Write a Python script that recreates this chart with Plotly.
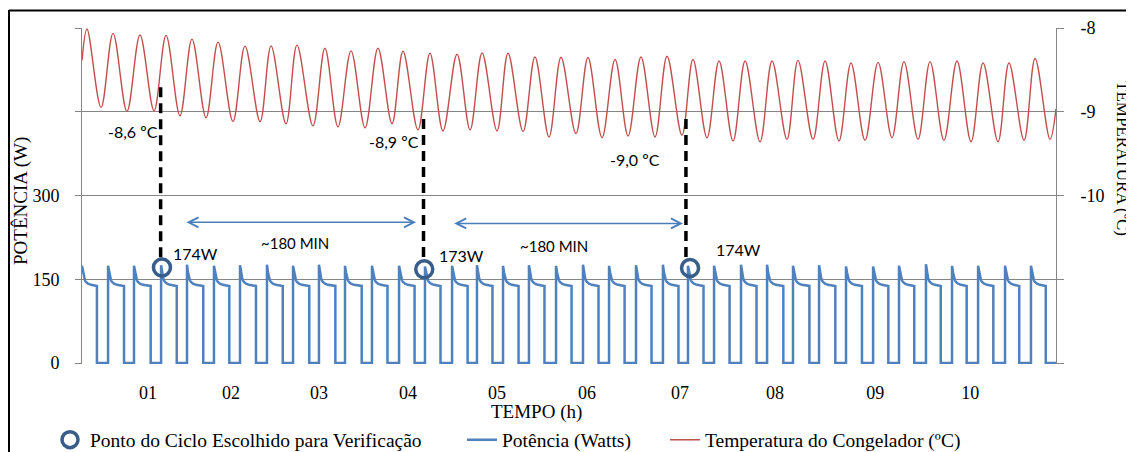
import plotly.graph_objects as go

# ---------------- data ----------------
# x-axis tick labels (hours) and their position on the time axis (minutes)
hour_labels = ["01", "02", "03", "04", "05", "06", "07", "08", "09", "10"]
hour_label_min = [45.1, 101.7, 161.8, 222.6, 283.4, 344.9, 408.4, 473.3, 541.6, 606.5]
time_end_min = 665.1

# compressor cycles: switch-on time, switch-off time (min) and peak power (W)
cycle_start_min = [0.0, 17.8, 35.5, 54.0, 71.7, 90.1, 107.9, 126.3, 144.1, 161.8,
                   179.6, 198.0, 216.5, 234.2, 252.7, 269.7, 287.5, 305.2, 323.7, 342.1,
                   359.9, 378.3, 396.7, 413.8, 431.6, 450.0, 467.8, 485.5, 503.3, 521.7,
                   540.2, 557.9, 576.3, 594.1, 611.9, 630.3, 648.0]
cycle_end_min = [10.2, 28.7, 46.9, 64.7, 82.8, 100.6, 118.8, 137.1, 155.2, 173.0,
                 191.0, 208.6, 227.1, 244.8, 263.3, 280.3, 298.1, 315.8, 334.3, 352.7,
                 370.5, 388.9, 407.3, 424.4, 442.2, 460.6, 478.9, 496.7, 514.4, 532.6,
                 550.6, 568.3, 586.4, 604.1, 622.3, 640.0, 658.1]
cycle_peak_w = [174, 174, 174, 175, 176, 174, 175, 176, 174, 176,
                174, 174, 174, 173, 174, 175, 174, 175, 174, 176,
                174, 175, 176, 174, 174, 176, 176, 174, 175, 173,
                173, 174, 177, 174, 174, 174, 174]
# power decay after switch-on (minutes after start, W), read from one cycle
decay_offset_min = [0.7, 1.4, 2.0, 2.7, 4.1, 6.1]
decay_w = [162, 153, 148, 145, 142, 140]
plateau_end_w = 138

# freezer temperature: start / end values and cycle extremes
temp_start = (0.0, -8.386)
temp_end = (665.1, -8.964)
temp_peak_min = [3.4, 21.2, 39.6, 57.4, 75.1, 92.9, 111.3, 129.1, 146.8, 165.9,
                 183.7, 202.1, 219.2, 237.6, 256.1, 273.2, 290.9, 309.3, 327.1, 345.5,
                 364.0, 381.7, 399.5, 417.2, 435.0, 452.8, 471.2, 488.9, 507.4, 525.1,
                 543.6, 561.3, 579.1, 597.5, 615.3, 633.0, 650.8]
temp_peak_c = [-8.012, -8.064, -8.084, -8.088, -8.133, -8.169, -8.217, -8.213, -8.205, -8.241,
               -8.273, -8.241, -8.277, -8.301, -8.313, -8.298, -8.301, -8.346, -8.349, -8.353,
               -8.377, -8.346, -8.337, -8.377, -8.394, -8.394, -8.394, -8.386, -8.394, -8.418,
               -8.410, -8.401, -8.401, -8.394, -8.418, -8.418, -8.365]
temp_trough_min = [13.0, 30.7, 49.2, 66.9, 84.7, 103.1, 121.6, 139.3, 157.7, 174.8,
                   193.3, 211.7, 229.4, 246.5, 265.0, 283.4, 301.2, 318.9, 337.3, 355.1,
                   372.9, 391.3, 409.7, 426.8, 444.6, 463.0, 481.4, 499.2, 516.9, 534.7,
                   553.1, 570.9, 588.6, 607.1, 625.5, 643.3, 661.0]
temp_trough_c = [-8.948, -8.996, -8.988, -9.048, -9.072, -9.117, -9.117, -9.145, -9.169, -9.181,
                 -9.193, -9.141, -9.217, -9.229, -9.217, -9.229, -9.237, -9.301, -9.261, -9.310,
                 -9.289, -9.301, -9.281, -9.310, -9.349, -9.358, -9.329, -9.329, -9.349, -9.341,
                 -9.310, -9.329, -9.341, -9.358, -9.358, -9.341, -9.329]

# chosen verification points
check_min = [54.6, 233.7, 415.2]
check_w = [171, 168, 170]
check_labels = ["174W", "173W", "174W"]
temp_labels = ["-8,6 ºC", "-8,9 ºC", "-9,0 ºC"]

# ---------------- build series ----------------
pw_x, pw_y = [], []
for i, (t0, t1, pk) in enumerate(zip(cycle_start_min, cycle_end_min, cycle_peak_w)):
    if i > 0:
        pw_x.append(t0); pw_y.append(0)
    pw_x.append(t0); pw_y.append(pk)
    for off, w in zip(decay_offset_min, decay_w):
        pw_x.append(t0 + off); pw_y.append(w)
    pw_x.append(t1); pw_y.append(plateau_end_w)
    pw_x.append(t1); pw_y.append(0)
pw_x.append(time_end_min); pw_y.append(0)

pts = [temp_start] + list(zip(temp_peak_min, temp_peak_c)) + \
      list(zip(temp_trough_min, temp_trough_c)) + [temp_end]
pts.sort()
tp_x = [p[0] for p in pts]
tp_y = [p[1] for p in pts]

# ---------------- layout geometry ----------------
OFF = 8                      # default page (body) margin of the html page
W, H = 1134 - OFF, 452 - OFF
L, R, T, B = 82 - OFF, 1056 - OFF, 28 - OFF, 364 - OFF
pad_w = 1.8
p_range = [-pad_w, 600]
t_range = [-12 - pad_w * 4 / 600, -8]


def paper_x(px):             # screen pixel -> paper coordinate
    return (px - OFF - L) / (R - L)


def paper_y(py):
    return (B - (py - OFF)) / (B - T)


SERIF = "Liberation Serif"
SANS = "Lato"
GRID = "#868686"
BLUE = "#4F81BD"
RED = "#C0504D"
NAVY = "#385D8A"

fig = go.Figure()
fig.add_trace(go.Scatter(
    x=pw_x, y=pw_y, mode="lines", name="Potência (Watts)",
    line=dict(color=BLUE, width=2.5), legend="legend2", showlegend=True))
fig.add_trace(go.Scatter(
    x=tp_x, y=tp_y, mode="lines", name="Temperatura do Congelador (ºC)",
    line=dict(color=RED, width=1.4, shape="spline", smoothing=1.0),
    yaxis="y2", legend="legend3", showlegend=True))
fig.add_trace(go.Scatter(
    x=check_min, y=check_w, mode="markers",
    name="Ponto do Ciclo Escolhido para Verificação",
    marker=dict(symbol="circle-open", size=17, color=NAVY, line=dict(width=3.5, color=NAVY)),
    legend="legend", showlegend=True, cliponaxis=False))

# dashed markers from temperature reading to the chosen points
dash_x = [53.7, 233.2, 412.4]
dash_top = [494, 437, 437]
dash_bot = [181, 190, 190]
for x, y0, y1 in zip(dash_x, dash_top, dash_bot):
    fig.add_shape(type="line", xref="x", yref="y", x0=x, x1=x, y0=y0, y1=y1,
                  line=dict(color="black", width=3.5, dash="10px,6px"), layer="above")

C = dict(xanchor="center", yanchor="middle", showarrow=False)
ann = []
# temperature labels
for txt, x, y in zip(temp_labels, [34.8, 213.1, 377.3], [414, 396, 364]):
    ann.append(dict(text=txt, x=x, y=y, xref="x", yref="y",
                    font=dict(family=SANS, size=16, color="black"), **C))
# power labels
for txt, x, y in zip(check_labels, [77.2, 258.8, 448.0], [197, 193, 204]):
    ann.append(dict(text=txt, x=x, y=y, xref="x", yref="y",
                    font=dict(family=SANS, size=16, color="black"), **C))
# interval labels and arrows
for x, y in zip([145.5, 322.3], [215, 210]):
    ann.append(dict(text="~180 MIN", x=x, y=y, xref="x", yref="y",
                    font=dict(family=SANS, size=15, color="black"), **C))
for xa, xb, y in [(70.3, 228.1, 252), (253.1, 410.4, 250)]:
    ann.append(dict(x=xb, y=y, ax=xa, ay=y, xref="x", yref="y", axref="x", ayref="y",
                    text="", showarrow=True, arrowhead=5, startarrowhead=5,
                    arrowside="end+start", arrowsize=1.3, arrowwidth=1.5,
                    arrowcolor="#4A7EBB"))
# axis titles
ann.append(dict(text="POTÊNCIA (W)", x=paper_x(21), y=paper_y(201), xref="paper", yref="paper",
                textangle=-90, font=dict(family=SERIF, size=19, color="black"), **C))
ann.append(dict(text="TEMPERATURA (ºC)", x=paper_x(1123), y=paper_y(158), xref="paper",
                yref="paper", textangle=90, borderpad=0,
                font=dict(family=SERIF, size=17, color="black"), **C))
ann.append(dict(text="TEMPO (h)", x=paper_x(536), y=paper_y(412), xref="paper", yref="paper",
                font=dict(family=SERIF, size=19, color="black"), **C))

# outer frame (top and left edges visible)
fig.add_shape(type="line", xref="paper", yref="paper", x0=paper_x(9), x1=paper_x(1140),
              y0=paper_y(10.5), y1=paper_y(10.5), line=dict(color="black", width=2))
fig.add_shape(type="line", xref="paper", yref="paper", x0=paper_x(9), x1=paper_x(9),
              y0=paper_y(10), y1=paper_y(460), line=dict(color="black", width=2))

leg_common = dict(orientation="h", yanchor="middle", xanchor="left", bgcolor="rgba(0,0,0,0)",
                  font=dict(family=SERIF, size=19.5, color="black"), borderwidth=0,
                  visible=True)

fig.update_layout(
    width=W, height=H, showlegend=True,
    margin=dict(l=L, r=W - R, t=T, b=H - B, pad=0, autoexpand=False),
    paper_bgcolor="white", plot_bgcolor="white",
    annotations=ann,
    legend=dict(x=paper_x(50), y=paper_y(440), **leg_common),
    legend2=dict(x=paper_x(462), y=paper_y(440), **leg_common),
    legend3=dict(x=paper_x(665), y=paper_y(440), **leg_common),
    xaxis=dict(range=[0, time_end_min], tickvals=hour_label_min, ticktext=hour_labels,
               showgrid=False, zeroline=False, showline=False, ticks="",
               ticklabelstandoff=16, tickfont=dict(family=SERIF, size=18, color="black")),
    yaxis=dict(range=p_range, tickvals=[0, 150, 300, 450, 600],
               ticktext=["0", "150", "300", "", ""], showgrid=True, gridcolor=GRID,
               gridwidth=1, zeroline=False, showline=True, linecolor=GRID, linewidth=1,
               ticks="outside", ticklen=6, tickcolor=GRID, ticklabelstandoff=12,
               tickfont=dict(family=SERIF, size=18, color="black")),
    yaxis2=dict(range=t_range, overlaying="y", side="right",
                tickvals=[-8, -9, -10, -11, -12], ticktext=["-8", "-9", "-10", "", ""],
                showgrid=False, zeroline=False, showline=True, linecolor=GRID, linewidth=1,
                ticks="outside", ticklen=7, tickcolor=GRID, ticklabelstandoff=13,
                tickfont=dict(family=SERIF, size=18, color="black")),
)

fig.write_html("out.html")
